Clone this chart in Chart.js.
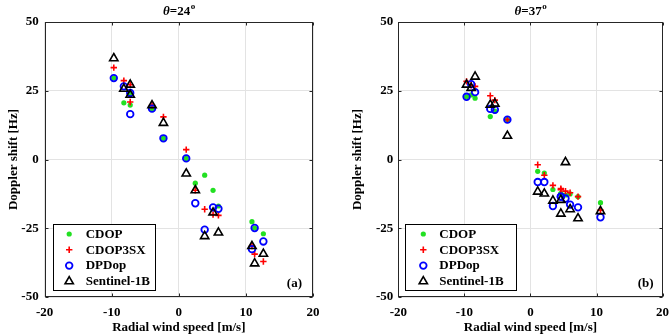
<!DOCTYPE html>
<html>
<head>
<meta charset="utf-8">
<script src="https://cdn.jsdelivr.net/npm/chart.js@4.4.1/dist/chart.umd.min.js"></script>
<style>
body { margin: 0; background: #fff; overflow: hidden; }
canvas { position: absolute; top: 0; }
</style>
</head>
<body>
<canvas id="chartA" width="334" height="336" style="left:0px"></canvas>
<canvas id="chartB" width="335" height="336" style="left:334px"></canvas>
<script>
// values: radial wind speed [m/s] and Doppler shift [Hz]
const seriesNames = ['CDOP', 'CDOP3SX', 'DPDop', 'Sentinel-1B'];
const incidenceAngles = [24, 37];
const panelLabels = ['(a)', '(b)'];
const xTicks = [-20, -10, 0, 10, 20];
const yTicks = [-50, -25, 0, 25, 50];

// panel (a), theta = 24
const windA    = [-9.7, -8.2, -7.25, -7.25, -4.0, -2.3, 1.1, 2.45, 3.85, 5.1, 5.9, 10.9, 11.3, 12.6];
const cdopA    = [29.6, 20.6, 24.0, 19.8, 18.5, 7.7, 0.4, -8.6, -5.7, -11.2, -16.9, -22.6, -24.9, -27.0];
const cdop3sxA = [33.4, 28.7, 27.2, 20.9, 19.7, 15.5, 3.6, -11.2, -18.1, -20.0, -20.3, -31.5, -34.4, -37.1];
const dpdopA   = [29.6, 26.6, 24.2, 16.5, 18.5, 7.7, 0.4, -15.9, -25.5, -17.4, -17.9, -32.6, -24.9, -29.8];
const s1bA     = [36.8, 25.7, 27.2, 23.5, 19.7, 13.3, -5.1, -11.2, -27.9, -19.3, -26.6, -31.5, -37.8, -34.3];

// panel (b), theta = 37
const windB    = [-9.67, -8.97, -8.38, -6.08, -5.39, -3.49, 1.1, 2.1, 3.4, 4.6, 4.6, 5.3, 6.0, 7.2, 10.6];
const cdopB    = [22.8, 23.5, 22.3, 15.6, 17.6, 14.5, -4.3, -4.9, -10.9, -12.4, -12.4, -12.9, -12.5, -13.5, -15.7];
const cdop3sxB = [28.4, 27.0, 26.6, 23.2, 21.6, 14.5, -1.9, -5.7, -9.4, -10.6, -11.0, -11.5, -12.1, -13.5, -18.4];
const dpdopB   = [22.8, 27.4, 24.5, 18.4, 18.1, 14.5, -8.2, -8.2, -16.9, -13.5, -13.5, -14.2, -16.4, -17.4, -21.0];
const s1bB     = [27.2, 26.0, 30.1, 19.9, 20.3, 8.6, -11.7, -12.4, -15.0, -14.7, -19.7, -1.0, -18.1, -21.4, -18.8];

const FONT = '"Liberation Serif", "Times New Roman", serif';
const AXIS = '#262626';

const styles = [
    { pointStyle: 'circle', radius: 2.6, borderWidth: 0, backgroundColor: '#22e022', borderColor: '#22e022' },
    { pointStyle: 'cross', radius: 3.2, borderWidth: 1.6, backgroundColor: '#ff0000', borderColor: '#ff0000' },
    { pointStyle: 'circle', radius: 3.3, borderWidth: 1.8, backgroundColor: 'rgba(0,0,0,0)', borderColor: '#0000ff' },
    { pointStyle: 'triangle', radius: 4.8, borderWidth: 1.6, backgroundColor: 'rgba(0,0,0,0)', borderColor: '#000000' },
];

function toPoints(xs, ys)
{
    let pts = [];
    for (let i = 0; i < xs.length; i++)
    {
        pts.push({ x: xs[i], y: ys[i] });
    }
    return pts;
}

// box, inward ticks, legend, panel label and title in the MATLAB look
const decorations = {
    id: 'decorations',
    afterDatasetsDraw(chart, args, o)
    {
        const ctx = chart.ctx;
        const a = chart.chartArea;
        const sx = chart.scales.x, sy = chart.scales.y;
        const L = Math.round(a.left) + 0.5, R = Math.round(a.right) - 0.5;
        const T = Math.round(a.top) + 0.5, B = Math.round(a.bottom) - 0.5;
        ctx.save();

        // ticks pointing inward, on all four sides
        ctx.strokeStyle = AXIS;
        ctx.lineWidth = 1;
        ctx.beginPath();
        xTicks.forEach(v =>
        {
            const px = Math.round(sx.getPixelForValue(v)) + 0.5;
            ctx.moveTo(px, B); ctx.lineTo(px, B - 3);
            ctx.moveTo(px, T); ctx.lineTo(px, T + 3);
        });
        yTicks.forEach(v =>
        {
            const py = Math.round(sy.getPixelForValue(v)) + 0.5;
            ctx.moveTo(L, py); ctx.lineTo(L + 3, py);
            ctx.moveTo(R, py); ctx.lineTo(R - 3, py);
        });
        ctx.stroke();
        ctx.strokeRect(L, T, R - L, B - T);

        // legend box
        const bx = a.left + o.legendX, by = o.legendTop;
        ctx.fillStyle = '#fff';
        ctx.fillRect(bx, by, o.legendW, o.legendH);
        ctx.strokeStyle = '#000';
        ctx.strokeRect(Math.round(bx) + 0.5, Math.round(by) + 0.5, o.legendW, o.legendH);
        ctx.font = 'bold 13px ' + FONT;
        ctx.textBaseline = 'middle';
        ctx.textAlign = 'left';
        seriesNames.forEach((name, i) =>
        {
            const ry = by + 10 + i * 15.8;
            const st = styles[i];
            ctx.fillStyle = st.backgroundColor;
            ctx.strokeStyle = st.borderColor;
            ctx.lineWidth = st.borderWidth;
            Chart.helpers.drawPoint(ctx, {
                pointStyle: st.pointStyle, radius: st.radius,
                borderWidth: st.borderWidth, rotation: 0,
            }, bx + o.markerX, ry);
            ctx.fillStyle = '#000';
            ctx.fillText(name, bx + o.textX, ry + 0.5);
        });

        // panel label
        ctx.textAlign = 'right';
        ctx.fillText(o.label, a.right - o.labelRight, 283.5);

        // title: italic theta, "=NN" and a superscript o
        const cx = (a.left + a.right) / 2;
        const f1 = 'italic bold 13px ' + FONT, f2 = 'bold 13px ' + FONT, f3 = 'bold 9px ' + FONT;
        const p2 = '=' + o.angle;
        ctx.font = f1; const w1 = ctx.measureText('\u03b8').width;
        ctx.font = f2; const w2 = ctx.measureText(p2).width;
        ctx.font = f3; const w3 = ctx.measureText('o').width;
        let x0 = cx - (w1 + w2 + w3) / 2;
        ctx.textAlign = 'left';
        ctx.textBaseline = 'alphabetic';
        ctx.fillStyle = '#000';
        ctx.font = f1; ctx.fillText('\u03b8', x0, 15);
        ctx.font = f2; ctx.fillText(p2, x0 + w1, 15);
        ctx.font = f3; ctx.fillText('o', x0 + w1 + w2 + 0.5, 9);

        ctx.restore();
    }
};

function makeChart(id, xs, ys, idx, lay)
{
    let datasets = [];
    for (let i = 0; i < ys.length; i++)
    {
        const st = styles[i];
        datasets.push({
            label: seriesNames[i],
            data: toPoints(xs, ys[i]),
            pointStyle: st.pointStyle,
            pointRadius: st.radius,
            pointBorderWidth: st.borderWidth,
            pointBackgroundColor: st.backgroundColor,
            pointBorderColor: st.borderColor,
            showLine: false,
            order: ys.length - 1 - i,
        });
    }

    let config = {
        type: 'scatter',
        data: { datasets: datasets },
        options: {
            responsive: false,
            animation: false,
            devicePixelRatio: 1,
            layout: { padding: { left: lay.padLeft, right: lay.padRight, top: 22, bottom: 0 } },
            scales: {
                x: {
                    type: 'linear',
                    min: -20, max: 20,
                    afterBuildTicks: s => { s.ticks = xTicks.map(v => ({ value: v })); },
                    afterFit: s => { s.height = 39; s.paddingLeft = 0; s.paddingRight = 0; },
                    grid: { color: '#e3e3e3', drawTicks: false },
                    border: { display: false },
                    ticks: { color: '#000', padding: 8, maxRotation: 0, font: { family: FONT, size: 13, weight: 'bold' } },
                    title: {
                        display: true, text: 'Radial wind speed [m/s]', color: '#000',
                        padding: { top: 0, bottom: 1 },
                        font: { family: FONT, size: 13, weight: 'bold' },
                    },
                },
                y: {
                    type: 'linear',
                    min: -50, max: 50,
                    afterBuildTicks: s => { s.ticks = yTicks.map(v => ({ value: v })); },
                    afterFit: s => { s.width = lay.yWidth; s.paddingTop = 0; s.paddingBottom = 0; },
                    grid: { color: '#e3e3e3', drawTicks: false },
                    border: { display: false },
                    ticks: { color: '#000', padding: lay.tickPad, font: { family: FONT, size: 13, weight: 'bold' } },
                    title: {
                        display: true, text: 'Doppler shift [Hz]', color: '#000',
                        padding: { top: lay.titlePad, bottom: 0 },
                        font: { family: FONT, size: 13, weight: 'bold' },
                    },
                },
            },
            plugins: {
                legend: { display: false },
                tooltip: { enabled: false },
                decorations: {
                    angle: incidenceAngles[idx],
                    label: panelLabels[idx],
                    legendX: lay.legendX, legendTop: 224, legendW: lay.legendW, legendH: 66,
                    markerX: lay.markerX, textX: lay.textX, labelRight: lay.labelRight,
                },
            },
        },
        plugins: [decorations],
    };

    return new Chart(id, config);
}

makeChart('chartA', windA, [cdopA, cdop3sxA, dpdopA, s1bA], 0,
    { padLeft: 0, padRight: 21, yWidth: 44.7, tickPad: 6, titlePad: 6,
      legendX: 8, legendW: 102, markerX: 16.5, textX: 33, labelRight: 11 });
makeChart('chartB', windB, [cdopB, cdop3sxB, dpdopB, s1bB], 1,
    { padLeft: 10, padRight: 4, yWidth: 54.3, tickPad: 5, titlePad: 6,
      legendX: 7, legendW: 111, markerX: 18, textX: 34, labelRight: 9 });
</script>
</body>
</html>
